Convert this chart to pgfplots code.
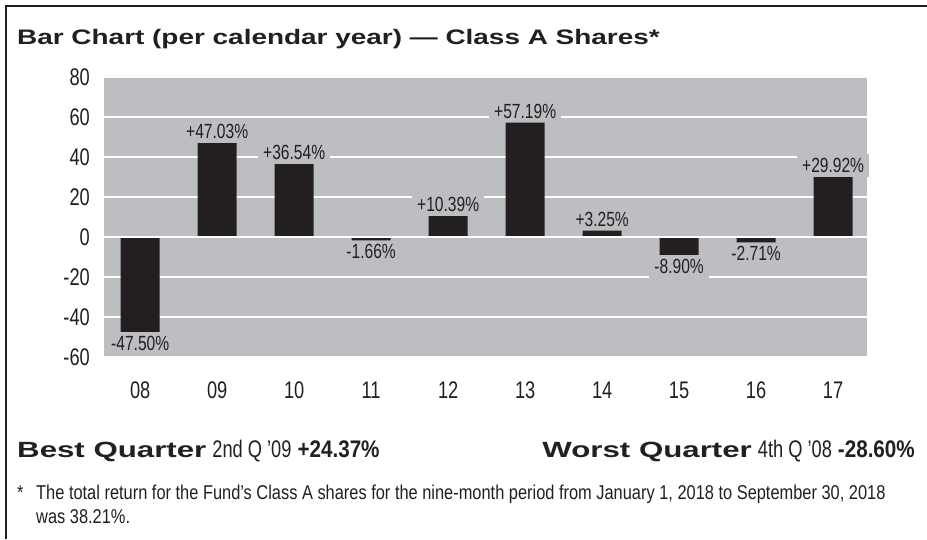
\documentclass[border=0pt]{standalone}
\usepackage{fontspec}
\setmainfont{Liberation Sans}
\newfontfamily\condfont[FakeStretch=0.76]{Liberation Sans}
\newfontfamily\footfont[FakeStretch=0.82]{Liberation Sans}
\newfontfamily\valfont[FakeStretch=0.86]{Liberation Sans}
\newfontfamily\headfont[FakeStretch=1.42]{Liberation Sans}
\newfontfamily\titlefont[FakeStretch=1.33]{Liberation Sans}
\usepackage{pgfplots}
\usepackage{pgfplotstable}
\pgfplotsset{compat=1.18}
\definecolor{chartgray}{HTML}{BDBEC1}
\definecolor{barblack}{HTML}{231F20}
\pgfplotstableread{
x y
0 -47.50
1 47.03
2 36.54
3 -1.66
4 10.39
5 57.19
6 3.25
7 -8.90
8 -2.71
9 29.92
}\datatable
\begin{document}
\begin{tikzpicture}[x=1pt,y=1pt]
\useasboundingbox (0,0) rectangle (927,-539);
\draw[line width=2.2pt, color=barblack] (6,-539) -- (6,-6) -- (927,-6);
\node[anchor=base west, inner sep=0pt, text=barblack] at (17,-44)
  {\titlefont\bfseries\fontsize{21}{21}\selectfont Bar Chart (per calendar year) — Class A Shares*};
\begin{axis}[
  at={(104pt,-357pt)}, anchor=south west,
  scale only axis, width=763pt, height=280pt,
  xmin=-0.47, xmax=9.44, ymin=-60, ymax=80,
  axis line style={draw=none},
  major tick length=0pt,
  xtick={0,...,9},
  xticklabels={08,09,10,11,12,13,14,15,16,17},
  ytick={-60,-40,...,80},
  ymajorgrids,
  grid style={white, line width=1.5pt},
  axis background/.style={fill=chartgray},
  /pgf/number format/assume math mode=true,
  tick label style={font=\condfont\fontsize{24}{24}\selectfont, text=barblack},
  yticklabel style={inner sep=0pt, xshift=-14pt},
  xticklabel style={inner sep=0pt, yshift=-25pt},
  ybar, bar width=39pt,
  point meta=y,
  nodes near coords={\pgfmathprintnumber[fixed,fixed zerofill,precision=2,showpos]{\pgfplotspointmeta}\%},
  nodes near coords align={vertical},
  every node near coord/.append style={font=\condfont\fontsize{20.5}{20.5}\selectfont,
     text=barblack, fill=chartgray, inner xsep=5pt, inner ysep=4pt},
]
\addplot[fill=barblack, draw=none] table[x=x, y=y] {\datatable};
\draw[white, line width=1.5pt] (axis cs:-0.47,0) -- (axis cs:9.44,0);
\end{axis}
\node[anchor=base west, inner sep=0pt, text=barblack] at (17,-457)
  {{\headfont\bfseries\fontsize{22}{22}\selectfont Best Quarter}\hspace{6pt}{\condfont\fontsize{24}{24}\selectfont 2nd Q ’09}\hspace{6pt}{\valfont\bfseries\fontsize{24}{24}\selectfont +24.37\%}};
\node[anchor=base east, inner sep=0pt, text=barblack] at (915,-457)
  {{\headfont\bfseries\fontsize{22}{22}\selectfont Worst Quarter}\hspace{6pt}{\condfont\fontsize{24}{24}\selectfont 4th Q ’08}\hspace{6pt}{\valfont\bfseries\fontsize{24}{24}\selectfont -28.60\%}};
\node[anchor=base west, inner sep=0pt, text=barblack] at (17,-499)
  {\footfont\fontsize{20}{20}\selectfont *};
\node[anchor=base west, inner sep=0pt, text=barblack] at (36,-499)
  {\footfont\fontsize{20}{20}\selectfont The total return for the Fund’s Class A shares for the nine-month period from January 1, 2018 to September 30, 2018};
\node[anchor=base west, inner sep=0pt, text=barblack] at (36,-523)
  {\footfont\fontsize{20}{20}\selectfont was 38.21\%.};
\end{tikzpicture}
\end{document}
